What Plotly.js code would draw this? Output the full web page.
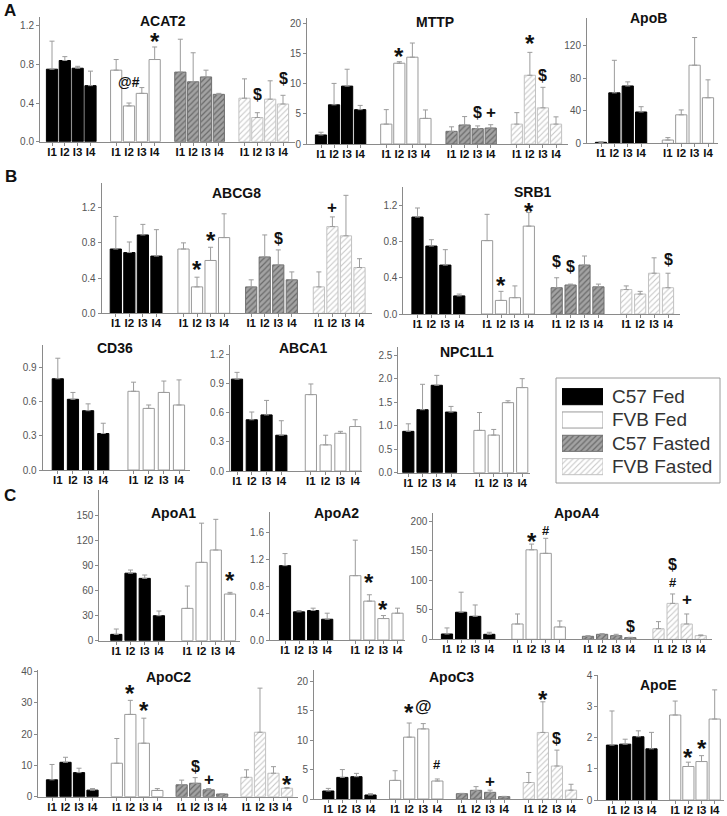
<!DOCTYPE html>
<html><head><meta charset="utf-8">
<script src="https://cdn.plot.ly/plotly-3.0.1.min.js"></script>
<style>html,body{margin:0;padding:0;background:#fff}</style>
</head><body><div id="chart" style="width:727px;height:816px"></div>
<script>
// ---------- DATA ----------
const series = ['C57 Fed', 'FVB Fed', 'C57 Fasted', 'FVB Fasted'];
const barLabels = ['I1', 'I2', 'I3', 'I4'];

// each array: one row per series (C57 Fed, FVB Fed, C57 Fasted, FVB Fasted), one value per segment I1..I4
const acat2Mean = [[0.75,0.84,0.76,0.58],[0.74,0.37,0.50,0.85],[0.72,0.62,0.67,0.49],[0.45,0.25,0.44,0.39]];
const acat2Sem  = [[0.29,0.04,0.02,0.15],[0.11,0.03,0.06,0.13],[0.34,0.30,0.07,0.01],[0.20,0.05,0.19,0.09]];

const mttpMean = [[1.5,6.5,9.6,5.7],[3.3,13.4,14.4,4.25],[2.1,3.15,2.55,2.65],[3.3,11.4,6.0,3.3]];
const mttpSem  = [[0.45,3.55,2.8,0.7],[2.4,0.25,2.35,1.4],[0.75,1.4,0.45,0.55],[1.9,3.8,3.4,1.2]];

const apobMean = [[1.2,62,70.5,38.5],[4,35,96,56]];
const apobSem  = [[0.8,40,5,6.5],[3,6,34,22]];

const abcg8Mean = [[0.73,0.69,0.89,0.65],[0.73,0.30,0.60,0.86],[0.30,0.64,0.55,0.38],[0.30,0.985,0.88,0.52]];
const abcg8Sem  = [[0.37,0.12,0.12,0.30],[0.07,0.11,0.15,0.27],[0.08,0.25,0.17,0.09],[0.17,0.11,0.46,0.10]];

const srb1Mean = [[1.07,0.75,0.54,0.20],[0.81,0.15,0.18,0.97],[0.29,0.32,0.54,0.30],[0.27,0.22,0.45,0.29]];
const srb1Sem  = [[0.10,0.07,0.17,0.02],[0.29,0.10,0.13,0.15],[0.11,0.01,0.10,0.03],[0.04,0.03,0.17,0.16]];

const cd36Mean = [[0.80,0.62,0.52,0.32],[0.69,0.54,0.68,0.57]];
const cd36Sem  = [[0.18,0.06,0.06,0.09],[0.08,0.03,0.10,0.22]];

const abca1Mean = [[0.95,0.53,0.58,0.37],[0.79,0.27,0.39,0.46]];
const abca1Sem  = [[0.07,0.08,0.15,0.15],[0.11,0.10,0.02,0.07]];

const npc1l1Mean = [[0.88,1.34,1.86,1.29],[0.90,0.80,1.49,1.81]];
const npc1l1Sem  = [[0.16,0.54,0.21,0.12],[0.38,0.12,0.04,0.19]];

const apoa1Mean = [[7.6,81,74.8,30],[38.8,94,108.8,56]];
const apoa1Sem  = [[6.4,3.8,4,5.6],[26.8,47,36.8,2]];

const apoa2Mean = [[1.11,0.42,0.44,0.31],[0.96,0.58,0.32,0.40]];
const apoa2Sem  = [[0.18,0.02,0.035,0.09],[0.53,0.095,0.045,0.075]];

const apoa4Mean = [[9,46,39,8.5],[26,152,146,21],[5.1,8.5,6.2,2.8],[18,61,26,6.2]];
const apoa4Sem  = [[10.3,34,19.3,3.4],[17,9.7,25.5,10.2],[1.1,1.1,2.3,0.6],[12,16,17,1.2]];

const apoc2Mean = [[5.4,11,7.7,2.1],[10.7,26.3,17.1,2.0],[3.8,4.3,2.2,0.85],[6.2,20.6,7.5,2.7]];
const apoc2Sem  = [[4.9,1.6,1.4,0.5],[7.9,4.5,8,0.6],[1.5,1.8,0.4,0.15],[2.4,14.1,2.1,0.2]];

const apoc3Mean = [[1.36,3.67,3.79,0.68],[3.16,10.5,11.9,3.05],[0.9,1.47,1.13,0.4],[2.8,11.3,5.6,1.5]];
const apoc3Sem  = [[0.44,1.33,0.56,0.22],[1.64,2.4,0.9,0.35],[0.06,0.63,0.37,0.05],[1.7,5.2,2.7,1.0]];

const apoeMean = [[1.77,1.8,2.04,1.65],[2.74,1.08,1.24,2.61]];
const apoeSem  = [[1.1,0.16,0.19,0.53],[0.45,0.14,0.19,0.94]];

// significance marks: [panel, series index, segment index, symbol]
const marks = [
 ['ACAT2',1,1,'@#'],['ACAT2',1,3,'*'],['ACAT2',3,1,'$'],['ACAT2',3,3,'$'],
 ['MTTP',1,1,'*'],['MTTP',2,2,'$'],['MTTP',2,3,'+'],['MTTP',3,1,'*'],['MTTP',3,2,'$'],
 ['ABCG8',1,1,'*'],['ABCG8',1,2,'*'],['ABCG8',2,2,'$'],['ABCG8',3,1,'+'],
 ['SRB1',1,1,'*'],['SRB1',1,3,'*'],['SRB1',2,0,'$'],['SRB1',2,1,'$'],['SRB1',3,3,'$'],
 ['ApoA1',1,3,'*'],
 ['ApoA2',1,1,'*'],['ApoA2',1,2,'*'],
 ['ApoA4',1,1,'*'],['ApoA4',1,2,'#'],['ApoA4',2,3,'$'],['ApoA4',3,1,'#'],['ApoA4',3,1,'$ '],['ApoA4',3,2,'+'],
 ['ApoC2',1,1,'*'],['ApoC2',1,2,'*'],['ApoC2',2,1,'$'],['ApoC2',2,2,'+'],['ApoC2',3,3,'*'],
 ['ApoC3',1,1,'*'],['ApoC3',1,2,'@'],['ApoC3',1,3,'#'],['ApoC3',2,2,'+'],['ApoC3',3,1,'*'],['ApoC3',3,2,'$'],
 ['ApoE',1,1,'*'],['ApoE',1,2,'*']
];
// extra vertical gap (px) between error-bar top and mark
const markGap = [21,10,18,17, 10,13,12,14,12, 13,12,11,9, 11,6,16,18,14, 17, 17,11, 8,8,11,11,29,14, 12,13,11,9,8, 16,17,14,9,7,12, 10,12];

// ---------- LAYOUT (pixel geometry of each panel) ----------
const W = 727, H = 816;
const FONT = '"Liberation Sans", Arial, Helvetica, sans-serif';
const panels = [
 {name:'ACAT2', mean:acat2Mean, sem:acat2Sem, L:40, R:295, b0:52, bN:283, gp:5, y0:141.7, yt:17, ymax:1.29, dtick:0.4, tmax:1.2, dec:1, tx:163, ty:21},
 {name:'MTTP', mean:mttpMean, sem:mttpSem, L:307, R:568, b0:321, bN:556, gp:5, y0:144, yt:18, ymax:20.9, dtick:5, tmax:20, dec:0, tx:435, ty:22},
 {name:'ApoB', mean:apobMean, sem:apobSem, L:587, R:718, b0:601, bN:708, gp:5, y0:143.3, yt:18, ymax:154, dtick:40, tmax:120, dec:0, tx:648, ty:18},
 {name:'ABCG8', mean:abcg8Mean, sem:abcg8Sem, L:101.7, R:372, b0:115.8, bN:359.5, gp:5, y0:313.3, yt:183, ymax:1.48, dtick:0.4, tmax:1.2, dec:1, tx:236.7, ty:193},
 {name:'SRB1', mean:srb1Mean, sem:srb1Sem, L:403.3, R:680, b0:417.5, bN:668, gp:5, y0:314, yt:186.7, ymax:1.405, dtick:0.4, tmax:1.2, dec:1, tx:533, ty:191.7},
 {name:'CD36', mean:cd36Mean, sem:cd36Sem, L:42.7, R:190, b0:57.8, bN:179, gp:5, y0:470, yt:345, ymax:1.096, dtick:0.3, tmax:0.9, dec:1, tx:115, ty:348},
 {name:'ABCA1', mean:abca1Mean, sem:abca1Sem, L:230, R:362, b0:237, bN:355.2, gp:5, y0:471, yt:345, ymax:1.303, dtick:0.3, tmax:1.2, dec:1, tx:303, ty:348},
 {name:'NPC1L1', mean:npc1l1Mean, sem:npc1l1Sem, L:398.3, R:530, b0:408.3, bN:522.2, gp:5, y0:472.7, yt:346.7, ymax:2.68, dtick:0.5, tmax:2.5, dec:1, tx:466.7, ty:351.7},
 {name:'ApoA1', mean:apoa1Mean, sem:apoa1Sem, L:99.3, R:240, b0:116.3, bN:230, gp:5, y0:640.7, yt:490, ymax:180.8, dtick:30, tmax:150, dec:0, tx:173, ty:513},
 {name:'ApoA2', mean:apoa2Mean, sem:apoa2Sem, L:270, R:405, b0:285, bN:397.5, gp:5, y0:640, yt:511.7, ymax:1.915, dtick:0.4, tmax:1.6, dec:1, tx:336.7, ty:513},
 {name:'ApoA4', mean:apoa4Mean, sem:apoa4Sem, L:433.3, R:711.7, b0:447, bN:700.8, gp:5, y0:639.3, yt:513.3, ymax:214, dtick:50, tmax:200, dec:0, tx:576.7, ty:513.3},
 {name:'ApoC2', mean:apoc2Mean, sem:apoc2Sem, L:38.3, R:298, b0:52, bN:287, gp:4.8, y0:796.7, yt:670, ymax:40.5, dtick:10, tmax:40, dec:0, tx:168, ty:676.7},
 {name:'ApoC3', mean:apoc3Mean, sem:apoc3Sem, L:314, R:583, b0:328.3, bN:571, gp:4.75, y0:799, yt:670, ymax:21.9, dtick:5, tmax:20, dec:0, tx:451.7, ty:676.7},
 {name:'ApoE', mean:apoeMean, sem:apoeSem, L:598.3, R:724, b0:612, bN:714.7, gp:4.8, y0:800, yt:675, ymax:4.03, dtick:1, tmax:4, dec:0, tx:658.3, ty:685}
];

const styles = [
 {color:'#000000', line:'#000000'},
 {color:'#ffffff', line:'#9a9a9a'},
 {color:'#9a9a9a', line:'#6f6f6f', pattern:{shape:'/', fgcolor:'#6a6a6a', bgcolor:'#a3a3a3', size:4, solidity:0.3}},
 {color:'#ffffff', line:'#c2c2c2', pattern:{shape:'/', fgcolor:'#c8c8c8', bgcolor:'#ffffff', size:4, solidity:0.28}}
];
function markerFor(s) {
  const st = styles[s];
  const m = {color: st.color, line: {color: st.line, width: 1}};
  if (st.pattern) m.pattern = Object.assign({fillmode:'replace'}, st.pattern);
  return m;
}
const symFont = {'*':24, '$':16, '$ ':16, '+':17, '#':13, '@':17, '@#':14};
const symLift = {'*':-5};

const traces = [];
const annotations = [];
const layout = {
  width: W, height: H, margin: {l:0, r:0, t:0, b:0},
  paper_bgcolor: '#fff', plot_bgcolor: 'rgba(0,0,0,0)',
  showlegend: false, barmode: 'overlay', font: {family: FONT},
  annotations: annotations, shapes: []
};
const axisInfo = {};

panels.forEach((p, k) => {
  const n = k + 1, sfx = n === 1 ? '' : String(n);
  const xa = 'x' + sfx, ya = 'y' + sfx;
  const ng = p.mean.length;
  const last = (ng - 1) * p.gp + 3;
  const unit = (p.bN - p.b0) / last;
  const pos = (g, i) => g * p.gp + i;
  axisInfo[p.name] = {xa, ya, p, pos};
  const tickvals = [], ticktext = [];
  p.mean.forEach((vals, g) => {
    const xs = vals.map((_, i) => pos(g, i));
    xs.forEach((x, i) => { tickvals.push(x); ticktext.push(barLabels[i]); });
    traces.push({
      type: 'bar', name: series[g], x: xs, y: vals, xaxis: xa, yaxis: ya,
      width: 11.2 / unit, marker: markerFor(g), hoverinfo: 'skip',
      error_y: {type:'data', symmetric:false, array:p.sem[g], arrayminus:vals.map(() => 0),
                color:'#9c9c9c', thickness:1, width:2.5}
    });
  });
  layout['xaxis' + sfx] = {
    domain: [p.L / W, p.R / W], range: [(p.L - p.b0) / unit, (p.R - p.b0) / unit], anchor: ya,
    tickmode: 'array', tickvals, ticktext, showgrid:false, zeroline:false,
    showline:true, linecolor:'#8a8a8a', linewidth:1, ticks:'outside', ticklen:3, tickcolor:'#8a8a8a',
    ticklabelstandoff: -4,
    tickfont: {family: FONT, size: 11.5, color: '#111', weight: 'bold'}, fixedrange:true
  };
  const yv = [];
  for (let v = 0; v <= p.tmax + 1e-9; v += p.dtick) yv.push(+v.toFixed(4));
  layout['yaxis' + sfx] = {
    domain: [1 - p.y0 / H, 1 - p.yt / H], range: [0, p.ymax], anchor: xa,
    tickmode: 'array', tickvals: yv, ticktext: yv.map(v => v.toFixed(p.dec)),
    showgrid:false, zeroline:false, showline:true, linecolor:'#8a8a8a', linewidth:1,
    ticks:'outside', ticklen:3, tickcolor:'#8a8a8a',
    tickfont: {family: FONT, size: 10, color: '#555'}, fixedrange:true
  };
  annotations.push({text: p.name, xref:'paper', yref:'paper', x: p.tx / W, y: 1 - p.ty / H,
    showarrow:false, xanchor:'center', yanchor:'middle',
    font: {family: FONT, size: 14, color: '#111', weight: 'bold'}});
});

// significance marks placed above each bar's error-bar top
marks.forEach((m, j) => {
  const info = axisInfo[m[0]];
  const s = m[1], i = m[2], sym = m[3];
  const top = info.p.mean[s][i] + info.p.sem[s][i];
  annotations.push({text: sym.trim(), xref: info.xa, yref: info.ya, x: info.pos(s, i), y: top,
    yshift: markGap[j] + (symLift[sym] || 0), showarrow:false, xanchor:'center', yanchor:'middle',
    font: {family: FONT, size: symFont[sym], color: '#111', weight: 'bold'}});
});

// panel letters
[['A', 10, 11], ['B', 11, 176], ['C', 10, 496]].forEach(t => {
  annotations.push({text: t[0], xref:'paper', yref:'paper', x: t[1] / W, y: 1 - t[2] / H,
    showarrow:false, xanchor:'center', yanchor:'middle',
    font: {family: FONT, size: 17, color: '#111', weight: 'bold'}});
});

// custom legend (box, swatches drawn as bars, labels)
const LG = {L:556, R:720, T:378, B:483, swL:562, swR:603, rowTop:385, rowH:23.33, txt:610};
layout.shapes.push({type:'rect', xref:'paper', yref:'paper', x0: LG.L / W, x1: LG.R / W,
  y0: 1 - LG.B / H, y1: 1 - LG.T / H, line: {color:'#9a9a9a', width:1}, fillcolor:'rgba(0,0,0,0)'});
layout.xaxis15 = {domain:[LG.swL / W, LG.swR / W], range:[0, 1], visible:false, fixedrange:true, anchor:'y15'};
layout.yaxis15 = {domain:[1 - (LG.rowTop + 4 * LG.rowH) / H, 1 - LG.rowTop / H], range:[3.5, -0.5],
  visible:false, fixedrange:true, anchor:'x15'};
series.forEach((name, s) => {
  traces.push({type:'bar', orientation:'h', x:[1], y:[s], xaxis:'x15', yaxis:'y15', width:0.69,
    marker: markerFor(s), hoverinfo:'skip'});
  annotations.push({text: name, xref:'paper', yref:'paper', x: LG.txt / W,
    y: 1 - (LG.rowTop + (s + 0.5) * LG.rowH) / H, showarrow:false, xanchor:'left', yanchor:'middle',
    font: {family: FONT, size: 19, color: '#333'}});
});

Plotly.newPlot('chart', traces, layout, {staticPlot: true, displayModeBar: false});
</script>
</body></html>
